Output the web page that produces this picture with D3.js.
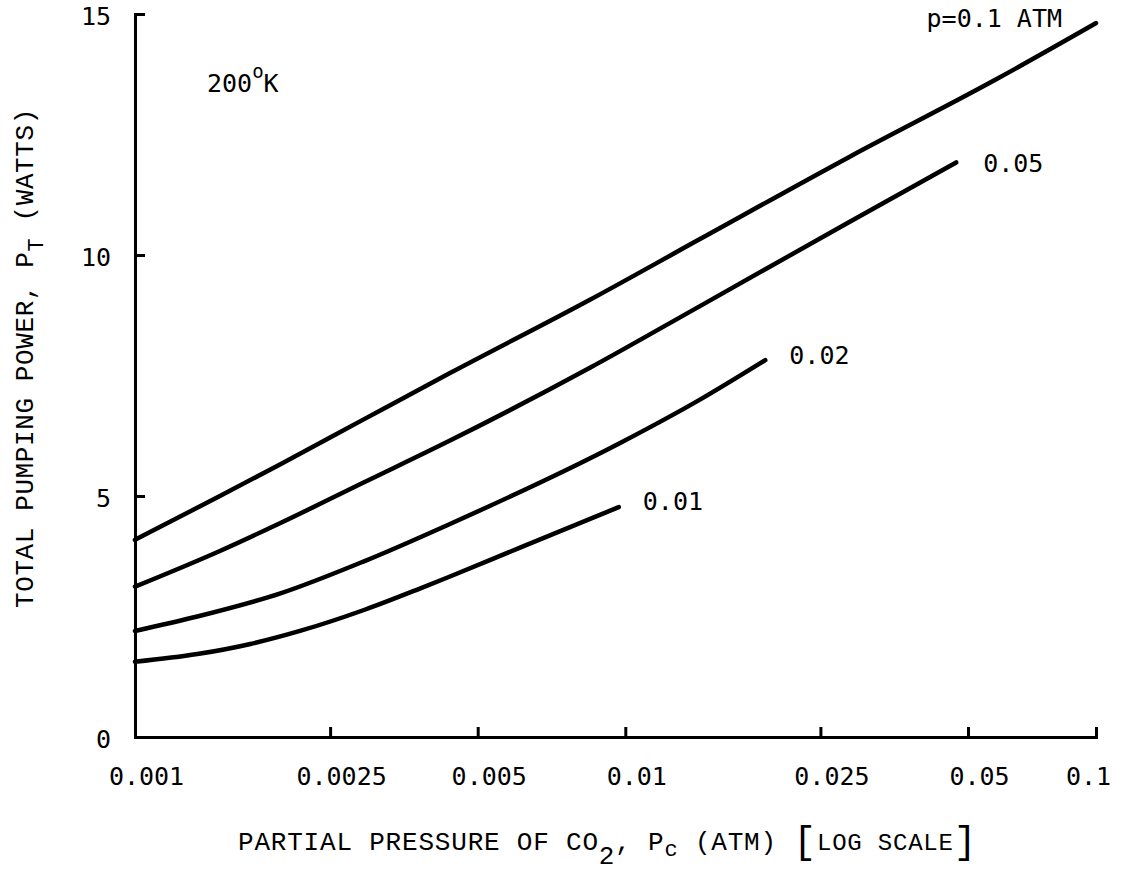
<!DOCTYPE html>
<html>
<head>
<meta charset="utf-8">
<script src="https://cdn.jsdelivr.net/npm/d3@7"></script>
<style>
  body { margin: 0; background: #fff; }
  svg { display: block; }
</style>
</head>
<body>
<svg id="chart"></svg>
<script>
// curve names, one per total pressure
const seriesNames = ['p=0.1 ATM', '0.05', '0.02', '0.01'];

// partial pressure of CO2 (atm) and total pumping power (watts)
const pcP01 = [0.001, 0.00149, 0.00198, 0.00294, 0.00439, 0.00847, 0.0142, 0.0287, 0.0584, 0.1];
const wattsP01 = [4.09, 5.0, 5.66, 6.60, 7.55, 9.07, 10.33, 12.04, 13.65, 14.81];

const pcP005 = [0.001, 0.00149, 0.00198, 0.00294, 0.00439, 0.00847, 0.0142, 0.0287, 0.0473];
const wattsP005 = [3.12, 3.86, 4.44, 5.29, 6.15, 7.66, 8.94, 10.69, 11.92];

const pcP002 = [0.001, 0.00134, 0.00198, 0.00294, 0.00439, 0.00976, 0.0142, 0.0193];
const wattsP002 = [2.20, 2.50, 2.98, 3.65, 4.42, 6.10, 7.0, 7.82];

const pcP001 = [0.001, 0.00134, 0.00172, 0.00217, 0.00294, 0.00381, 0.00439, 0.0061, 0.0097];
const wattsP001 = [1.56, 1.72, 1.93, 2.20, 2.64, 3.08, 3.33, 3.93, 4.77];

// axis ticks
const xTickValues = [0.001, 0.0025, 0.005, 0.01, 0.025, 0.05, 0.1];
const xTickLabels = ['0.001', '0.0025', '0.005', '0.01', '0.025', '0.05', '0.1'];
const yTickValues = [0, 5, 10, 15];


class PumpingPowerChart {

  constructor(_config) {
    this.config = {
      parentElement: _config.parentElement,
      containerWidth: _config.containerWidth || 1128,
      containerHeight: _config.containerHeight || 882
    }
    this.initVis();
  }

  initVis() {
    let vis = this;

    vis.svg = d3.select(vis.config.parentElement)
        .attr('width', vis.config.containerWidth)
        .attr('height', vis.config.containerHeight);

    // the hand drawn log axis is not quite even, so the scale is pinned at 0.05 too
    vis.xScale = d3.scaleLog()
        .domain([0.001, 0.05, 0.1])
        .range([135, 968, 1096]);

    vis.yScale = d3.scaleLinear()
        .domain([0, 15])
        .range([737, 14]);

    vis.line = d3.line()
        .x(d => vis.xScale(d[0]))
        .y(d => vis.yScale(d[1]))
        .curve(d3.curveMonotoneX);

    vis.xAxisG = vis.svg.append('g')
        .attr('transform', `translate(0,${vis.yScale(0)})`);

    vis.yAxisG = vis.svg.append('g')
        .attr('transform', `translate(${vis.xScale(0.001)},0)`);
  }

  render() {
    let vis = this;

    let series = [
      { name: seriesNames[0], points: d3.zip(pcP01, wattsP01), dx: -34, dy: 4, anchor: 'end' },
      { name: seriesNames[1], points: d3.zip(pcP005, wattsP005), dx: 27, dy: 10, anchor: 'start' },
      { name: seriesNames[2], points: d3.zip(pcP002, wattsP002), dx: 24, dy: 4, anchor: 'start' },
      { name: seriesNames[3], points: d3.zip(pcP001, wattsP001), dx: 24, dy: 3, anchor: 'start' }
    ];

    vis.svg.selectAll('.curve')
        .data(series)
      .join('path')
        .attr('class', 'curve')
        .attr('d', d => vis.line(d.points))
        .attr('fill', 'none')
        .attr('stroke', '#000')
        .attr('stroke-width', 4.5)
        .attr('stroke-linecap', 'round');

    vis.svg.selectAll('.curve-label')
        .data(series)
      .join('text')
        .attr('class', 'curve-label')
        .attr('x', d => vis.xScale(d.points[d.points.length - 1][0]) + d.dx)
        .attr('y', d => vis.yScale(d.points[d.points.length - 1][1]) + d.dy)
        .attr('text-anchor', d => d.anchor)
        .style('font-family', '"DejaVu Sans Mono", monospace')
        .style('font-size', '25px')
        .text(d => d.name);

    // axes, ticks point inward like the original
    let xAxis = d3.axisBottom(vis.xScale)
        .tickValues(xTickValues)
        .tickFormat((d, i) => xTickLabels[i])
        .tickSizeInner(-10)
        .tickSizeOuter(0)
        .tickPadding(30);

    let yAxis = d3.axisLeft(vis.yScale)
        .tickValues(yTickValues)
        .tickSizeInner(-10)
        .tickSizeOuter(0)
        .tickPadding(24);

    vis.xAxisG.call(xAxis);
    vis.yAxisG.call(yAxis);

    [vis.xAxisG, vis.yAxisG].forEach(g => {
      g.select('.domain').attr('stroke-width', 3).attr('stroke-linecap', 'square');
      g.selectAll('.tick line').attr('stroke-width', 3);
      g.selectAll('.tick text')
          .style('font-family', '"DejaVu Sans Mono", monospace')
          .style('font-size', '25px')
          .attr('fill', '#000');
    });
    // labels sit a little right of their ticks, the last one pulled back inside
    vis.xAxisG.selectAll('.tick text')
        .attr('dx', (d, i) => i === xTickValues.length - 1 ? -8 : 11);
    vis.yAxisG.selectAll('.tick text').attr('dy', '0.42em');

    // temperature note
    let note = vis.svg.append('text')
        .attr('x', 207)
        .attr('y', 92)
        .style('font-family', '"DejaVu Sans Mono", monospace')
        .style('font-size', '25px');
    note.append('tspan').text('200');
    note.append('tspan').attr('dy', -14).style('font-size', '19px').text('o');
    note.append('tspan').attr('dy', 14).text('K');

    // axis titles
    let xTitle = vis.svg.append('text')
        .attr('x', 238)
        .attr('y', 850)
        .style('font-family', '"Liberation Mono", "Courier New", monospace')
        .style('font-size', '26px')
        .style('letter-spacing', '0.8px');
    xTitle.append('tspan').text('PARTIAL PRESSURE OF CO');
    xTitle.append('tspan').attr('dy', 14).text('2');
    xTitle.append('tspan').attr('dy', -14).text(', P');
    xTitle.append('tspan').attr('dy', 6).style('font-size', '22px').text('c');
    xTitle.append('tspan').attr('dy', -6).text(' (ATM) ');
    xTitle.append('tspan').attr('dy', 3).style('font-size', '38px').text('[');
    xTitle.append('tspan').attr('dy', -3).style('font-size', '24px').text('LOG SCALE');
    xTitle.append('tspan').attr('dy', 3).style('font-size', '38px').text(']');

    let yTitle = vis.svg.append('text')
        .attr('transform', 'translate(33,608) rotate(-90)')
        .style('font-family', '"Liberation Mono", "Courier New", monospace')
        .style('font-size', '26px')
        .style('letter-spacing', '0.6px');
    yTitle.append('tspan').text('TOTAL PUMPING POWER, P');
    yTitle.append('tspan').attr('dy', 10).style('font-size', '22px').text('T');
    yTitle.append('tspan').attr('dy', -10).text(' (WATTS)');
  }
}

let chart = new PumpingPowerChart({ parentElement: '#chart' });
chart.render();
</script>
</body>
</html>
